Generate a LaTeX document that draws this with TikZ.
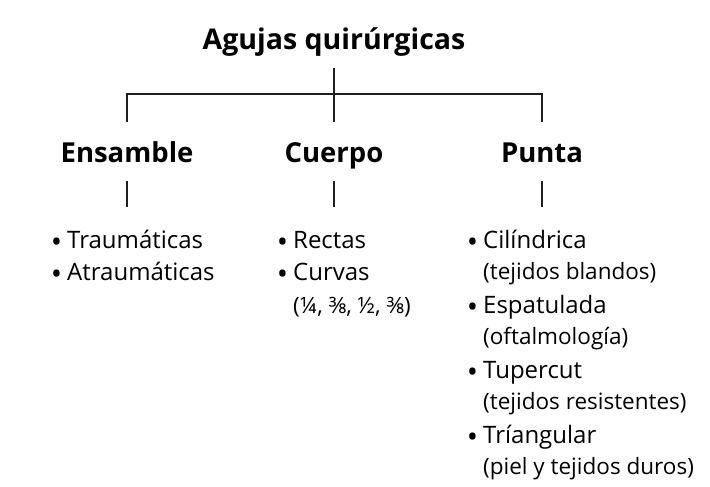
\documentclass[tikz,border=0pt]{standalone}
\usepackage{fontspec}
\setmainfont{Open Sans}
\usetikzlibrary{positioning}
\newcommand\bul{\llap{\raisebox{-4pt}{\fontsize{30}{30}\selectfont\textbullet}\hspace{5pt}}}

\begin{document}
\begin{tikzpicture}[x=1pt,y=-1pt,
    head node/.style={font=\bfseries\fontsize{27.5}{27.5}\selectfont,inner sep=0pt,text height=20pt,text depth=6pt,anchor=base},
    item node/.style={font=\fontsize{24}{24}\selectfont,inner sep=0pt,text height=18pt,text depth=5pt,anchor=base west},
    note node/.style={font=\fontsize{22.5}{22.5}\selectfont,inner sep=0pt,anchor=base west},
    link/.style={draw=black!88,line width=1.8pt}]
    \useasboundingbox (0,0) rectangle (710,487);
    \node[head node,font=\bfseries\fontsize{28.5}{28.5}\selectfont] (root) at (334,50) {Agujas quirúrgicas};
    \node[head node] (ens) at (127,162) {Ensamble};
    \node[head node] (cue) at (334,162) {Cuerpo};
    \node[head node] (pun) at (542,162) {Punta};
    \coordinate (fork) at (334,94);

    % lists
    \foreach \t [count=\i] in {Traumáticas,Atraumáticas}
        \node[item node] (e\i) at (67,{248+32*(\i-1)}) {\bul\t};
    \node[item node] (c1) at (293,248) {\bul Rectas};
    \node[item node] (c2) at (293,280) {\bul Curvas};
    \node[note node] (c3) at (293,313) {(¼, ⅜, ½, ⅜)};
    \foreach \t/\n [count=\i] in {Cilíndrica/(tejidos blandos),Espatulada/(oftalmología),
        Tupercut/(tejidos resistentes),Tríangular/(piel y tejidos duros)} {
        \node[item node] (p\i) at (483,{248+65.3*(\i-1)}) {\bul\t};
        \node[note node] (pn\i) at (483,{279+65.3*(\i-1)}) {\n};
    }

    \draw[link,shorten <=12pt] (root) -- (fork);
    \draw[link,shorten <=20pt,shorten >=20pt] (ens) |- (fork) -| (pun);
    \draw[link,shorten >=20pt] (fork) -- (cue);
    \draw[link,shorten <=13pt,shorten >=23pt] (ens) -- (ens |- e1.north);
    \draw[link,shorten <=13pt,shorten >=23pt] (cue) -- (cue |- c1.north);
    \draw[link,shorten <=13pt,shorten >=23pt] (pun) -- (pun |- p1.north);
\end{tikzpicture}
\end{document}
